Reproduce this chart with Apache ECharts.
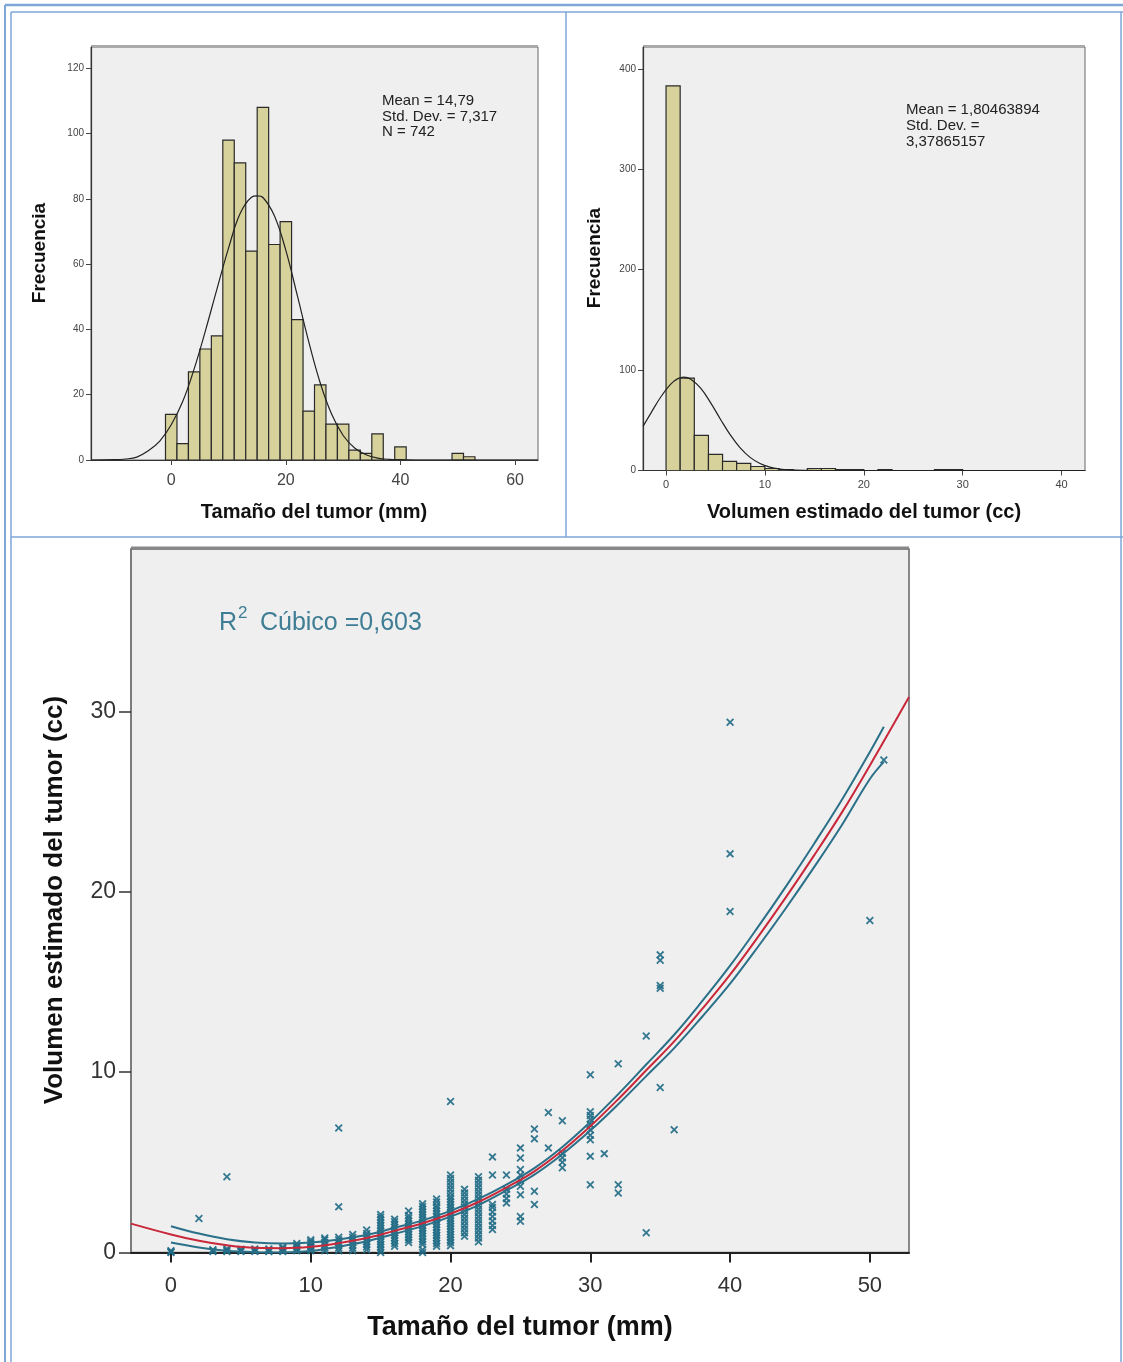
<!DOCTYPE html>
<html><head><meta charset="utf-8">
<script src="https://cdn.jsdelivr.net/npm/echarts@6/dist/echarts.min.js"></script>
<style>html,body{margin:0;padding:0;background:#fff}#c{width:1123px;height:1362px}</style>
</head><body><div id="c"></div>
<script>
// ---------- Histogram 1: Tamaño del tumor (mm) ----------
const tamBinCenters = [0,2,4,6,8,10,12,14,16,18,20,22,24,26,28,30,32,34,36,38,40,42,44,46,48,50,52];
const tamBinWidth = 2;
const tamCounts = [14,5,27,34,38,98,91,64,108,66,73,43,15,23,11,11,3,2,8,0,4,0,0,0,0,2,1];
const tamCurveX = [-14,-10,-8,-6,-4,-2,0,2,4,6,8,10,12,14,15,16,18,20,22,24,26,28,30,32,34,36,38,40,44,50,64];
const tamCurveY = [0,0.1,0.3,0.9,2.8,5.8,10.8,17.9,27.9,39.8,52.5,64.9,75.4,80.5,80.9,80.4,74.8,64.2,50.4,36.2,23.6,14.0,7.5,3.7,1.6,0.6,0.2,0.1,0,0,0];
const tamXTicks = [0,20,40,60];
const tamYTicks = [0,20,40,60,80,100,120];
const tamStats = ['Mean = 14,79','Std. Dev. = 7,317','N = 742'];

// ---------- Histogram 2: Volumen estimado del tumor (cc) ----------
const volBinStarts = [0,1.43,2.86,4.29,5.71,7.14,8.57,10,11.43,12.86,14.29,15.71,17.14,18.57,20,21.43,22.86,24.29,25.71,27.14,28.57];
const volBinWidth = 1.4286;
const volCounts = [383,92,35,16,9,7,4,2,1,0,2,2,1,1,0,1,0,0,0,1,1];
const volCurveX = [-2.33,-1.5,-0.5,0.5,1.2,1.8,2.5,3.5,4.5,5.5,6.5,7.5,8.5,9.5,10.5,11.5,12.5,14,16,20,42.4];
const volCurveY = [44,57.7,73.7,86.3,91.5,93,91,82,67.6,51.1,35.4,22.5,13.1,7.0,3.4,1.5,0.6,0.14,0,0,0];
const volXTicks = [0,10,20,30,40];
const volYTicks = [0,100,200,300,400];
const volStats = ['Mean = 1,80463894','Std. Dev. =','3,37865157'];

// ---------- Scatter: Tamaño vs Volumen ----------
const scatterPoints = [
 [0,0],[0,0.05],[0,0.1],[2,1.88],
 [3,0.05],[3,0.1],[3,0.15],
 [4,0.05],[4,0.12],[4,0.2],[4,4.2],
 [5,0.05],[5,0.1],[5,0.18],
 [6,0.05],[6,0.12],[6,0.2],
 [7,0.05],[7,0.1],[7,0.2],
 [8,0.05],[8,0.12],[8,0.22],[8,0.3],
 [9,0.1],[9,0.2],[9,0.3],[9,0.4],[9,0.5],
 [10,0.1],[10,0.2],[10,0.3],[10,0.4],[10,0.5],[10,0.6],[10,0.7],
 [11,0.1],[11,0.25],[11,0.4],[11,0.55],[11,0.7],[11,0.8],
 [12,0.1],[12,0.25],[12,0.4],[12,0.55],[12,0.7],[12,0.85],[12,2.53],[12,6.9],
 [13,0.1],[13,0.25],[13,0.4],[13,0.55],[13,0.7],[13,0.85],[13,1.0],
 [14,0.15],[14,0.3],[14,0.45],[14,0.6],[14,0.75],[14,0.9],[14,1.05],[14,1.25],
 [15,0],[15,0.15],[15,0.3],[15,0.45],[15,0.6],[15,0.75],[15,0.9],[15,1.05],[15,1.2],[15,1.35],[15,1.5],[15,1.65],[15,1.8],[15,1.95],[15,2.1],
 [16,0.35],[16,0.5],[16,0.65],[16,0.8],[16,0.95],[16,1.1],[16,1.25],[16,1.4],[16,1.55],[16,1.7],[16,1.85],
 [17,0.55],[17,0.7],[17,0.85],[17,1.0],[17,1.15],[17,1.3],[17,1.45],[17,1.6],[17,1.75],[17,1.9],[17,2.05],[17,2.3],
 [18,0],[18,0.15],[18,0.45],[18,0.6],[18,0.75],[18,0.9],[18,1.05],[18,1.2],[18,1.35],[18,1.5],[18,1.65],[18,1.8],[18,1.95],[18,2.1],[18,2.25],[18,2.4],[18,2.55],[18,2.7],
 [19,0.35],[19,0.5],[19,0.65],[19,0.8],[19,0.95],[19,1.1],[19,1.25],[19,1.4],[19,1.55],[19,1.7],[19,1.85],[19,2.0],[19,2.15],[19,2.3],[19,2.45],[19,2.6],[19,2.8],[19,2.97],
 [20,0.38],[20,0.55],[20,0.7],[20,0.85],[20,1.0],[20,1.15],[20,1.3],[20,1.45],[20,1.6],[20,1.75],[20,1.9],[20,2.05],[20,2.2],[20,2.35],[20,2.5],[20,2.65],[20,2.8],[20,2.95],[20,3.1],[20,3.3],[20,3.5],[20,3.7],[20,3.9],[20,4.1],[20,4.3],[20,8.37],
 [21,0.9],[21,1.1],[21,1.3],[21,1.5],[21,1.7],[21,1.9],[21,2.1],[21,2.3],[21,2.5],[21,2.7],[21,2.9],[21,3.1],[21,3.3],[21,3.5],
 [22,0.6],[22,0.8],[22,1.0],[22,1.2],[22,1.4],[22,1.6],[22,1.8],[22,2.0],[22,2.2],[22,2.4],[22,2.6],[22,2.8],[22,3.0],[22,3.2],[22,3.4],[22,3.6],[22,3.8],[22,4.0],[22,4.2],
 [23,1.27],[23,1.5],[23,1.75],[23,2.0],[23,2.25],[23,2.5],[23,2.66],[23,4.3],[23,5.3],
 [24,2.75],[24,3.0],[24,3.25],[24,3.5],[24,4.3],
 [25,1.73],[25,2.0],[25,3.2],[25,3.67],[25,4.0],[25,4.3],[25,4.6],[25,5.24],[25,5.8],
 [26,2.66],[26,3.4],[26,6.3],[26,6.85],
 [27,5.8],[27,7.76],
 [28,4.7],[28,5.0],[28,5.25],[28,5.5],[28,7.3],
 [30,3.76],[30,5.33],[30,6.25],[30,6.5],[30,6.8],[30,7.1],[30,7.4],[30,7.6],[30,7.8],[30,9.85],
 [31,5.48],[32,3.3],[32,3.76],[32,10.46],
 [34,1.1],[34,12.0],
 [35,9.15],[35,14.65],[35,14.8],[35,16.2],[35,16.5],
 [36,6.8],
 [40,18.9],[40,22.1],[40,29.4],
 [50,18.4],[51,27.3]
];
const fitX = [-2.86,0,2,4,6,8,10,12,14,16,18,20,22,24,26,28,30,32,34,36,38,40,42,44,46,48,50,52,52.8];
const fitY = [1.6,1.0,0.65,0.4,0.26,0.24,0.32,0.52,0.8,1.2,1.62,2.15,2.8,3.6,4.5,5.65,7.0,8.5,10.1,11.7,13.5,15.4,17.5,19.7,22.0,24.4,27.0,29.7,30.8];
const ciX = [0,2,4,6,8,10,12,14,16,18,20,22,24,26,28,30,32,34,36,38,40,42,44,46,48,50,51];
const ciUpper = [1.46,1.05,0.74,0.56,0.5,0.55,0.72,0.98,1.37,1.78,2.31,2.97,3.76,4.68,5.85,7.24,8.78,10.42,12.07,13.93,15.9,18.05,20.3,22.65,25.1,27.75,29.15];
const ciLower = [0.55,0.28,0.1,0.02,0,0.08,0.32,0.62,1.03,1.46,1.99,2.63,3.44,4.32,5.45,6.76,8.22,9.78,11.33,13.07,14.9,16.95,19.1,21.35,23.7,26.25,27.2];
const scXTicks = [0,10,20,30,40,50];
const scYTicks = [0,10,20,30];
const r2Label = ['R','2',' Cúbico =0,603'];

const F = '"Liberation Sans", Arial, sans-serif';
const zip = (a,b) => a.map((v,i)=>[v,b[i]]);

function histItem(params, api){
  const x0 = api.value(0), x1 = api.value(1), h = api.value(2);
  if (!h) return null;
  const p0 = api.coord([x0, 0]), p1 = api.coord([x1, h]);
  return {type:'rect', shape:{x:p0[0], y:p1[1], width:p1[0]-p0[0], height:p0[1]-p1[1]},
    style:{fill:'#d7d19b', stroke:'#2a2a2a', lineWidth:1.2}};
}

const tamBins = tamBinCenters.map((c,i)=>[c - tamBinWidth/2, c + tamBinWidth/2, tamCounts[i]]);
const volBins = volBinStarts.map((s,i)=>[s, s + volBinWidth, volCounts[i]]);

const xSym = 'path://M0,1.6L1.6,0L5,3.4L8.4,0L10,1.6L6.6,5L10,8.4L8.4,10L5,6.6L1.6,10L0,8.4L3.4,5Z';

function smallAxis(gridIndex, min, max, ticks, fs, margin, pos){
  return {
    gridIndex, type:'value', min, max, position: pos,
    splitLine:{show:false},
    axisLine:{show:true, onZero:false, lineStyle:{color:'#333', width:1.2}},
    axisTick:{show:true, length:5, customValues: ticks, lineStyle:{color:'#444'}},
    axisLabel:{show:true, customValues: ticks, fontFamily:F, fontSize:fs, color:'#444', margin}
  };
}

const blue = '#7ea6d8';
const graphics = [
  {type:'line', shape:{x1:5,y1:5,x2:1123,y2:5}, style:{stroke:blue, lineWidth:2.5}},
  {type:'line', shape:{x1:5,y1:5,x2:5,y2:1362}, style:{stroke:blue, lineWidth:2}},
  {type:'line', shape:{x1:11,y1:12,x2:1123,y2:12}, style:{stroke:blue, lineWidth:1.5}},
  {type:'line', shape:{x1:11,y1:12,x2:11,y2:1362}, style:{stroke:blue, lineWidth:1.5}},
  {type:'line', shape:{x1:566,y1:12,x2:566,y2:537}, style:{stroke:blue, lineWidth:1.5}},
  {type:'line', shape:{x1:11,y1:537,x2:1123,y2:537}, style:{stroke:blue, lineWidth:1.5}},
  {type:'line', shape:{x1:1121,y1:12,x2:1121,y2:1362}, style:{stroke:blue, lineWidth:1.5}},
  // plot-frame top shading like the reference
  {type:'line', shape:{x1:91,y1:46,x2:538,y2:46}, style:{stroke:'#aaa', lineWidth:2}},
  {type:'line', shape:{x1:643,y1:46,x2:1085,y2:46}, style:{stroke:'#aaa', lineWidth:2}},
  {type:'line', shape:{x1:131,y1:548,x2:909,y2:548}, style:{stroke:'#888', lineWidth:3}},
  // axis titles
  {type:'text', x:314, y:512, style:{text:'Tamaño del tumor (mm)', font:'bold 20px '+F, fill:'#111', align:'center', verticalAlign:'middle'}},
  {type:'text', x:40, y:253, rotation:Math.PI/2, style:{text:'Frecuencia', font:'bold 19px '+F, fill:'#111', align:'center', verticalAlign:'middle'}},
  {type:'text', x:864, y:512, style:{text:'Volumen estimado del tumor (cc)', font:'bold 20px '+F, fill:'#111', align:'center', verticalAlign:'middle'}},
  {type:'text', x:595, y:258, rotation:Math.PI/2, style:{text:'Frecuencia', font:'bold 19px '+F, fill:'#111', align:'center', verticalAlign:'middle'}},
  {type:'text', x:520, y:1328, style:{text:'Tamaño del tumor (mm)', font:'bold 27px '+F, fill:'#111', align:'center', verticalAlign:'middle'}},
  {type:'text', x:55, y:900, rotation:Math.PI/2, style:{text:'Volumen estimado del tumor (cc)', font:'bold 26px '+F, fill:'#111', align:'center', verticalAlign:'middle'}},
  // R2
  {type:'text', x:219, y:623, style:{text:r2Label[0], font:'25px '+F, fill:'#3f7d94', verticalAlign:'middle'}},
  {type:'text', x:238, y:613, style:{text:r2Label[1], font:'17px '+F, fill:'#3f7d94', verticalAlign:'middle'}},
  {type:'text', x:253, y:623, style:{text:r2Label[2], font:'25px '+F, fill:'#3f7d94', verticalAlign:'middle'}}
];
tamStats.forEach((t,i)=>graphics.push({type:'text', x:382, y:101+i*15.5, style:{text:t, font:'15px '+F, fill:'#222', verticalAlign:'middle'}}));
volStats.forEach((t,i)=>graphics.push({type:'text', x:906, y:110+i*16, style:{text:t, font:'15px '+F, fill:'#222', verticalAlign:'middle'}}));

const option = {
  animation:false,
  backgroundColor:'#fff',
  grid:[
    {left:91, top:47, width:447, height:413, show:true, backgroundColor:'#efefef', borderColor:'#666', borderWidth:1, outerBoundsMode:'none'},
    {left:643, top:47, width:442, height:423.5, show:true, backgroundColor:'#efefef', borderColor:'#666', borderWidth:1, outerBoundsMode:'none'},
    {left:131, top:549, width:778, height:703.5, show:true, backgroundColor:'#efefef', borderColor:'#666', borderWidth:1.5, outerBoundsMode:'none'}
  ],
  xAxis:[
    smallAxis(0,-14,64,tamXTicks,16,13,'bottom'),
    smallAxis(1,-2.33,42.37,volXTicks,11,9,'bottom'),
    {gridIndex:2, type:'value', min:-2.86, max:52.8, position:'bottom',
      splitLine:{show:false},
      axisLine:{show:true, onZero:false, lineStyle:{color:'#222', width:2}},
      axisTick:{show:true, length:10, customValues: scXTicks, lineStyle:{color:'#222', width:2}},
      axisLabel:{customValues: scXTicks, fontFamily:F, fontSize:22, color:'#333', margin:22}}
  ],
  yAxis:[
    smallAxis(0,0,126.5,tamYTicks,10,7,'left'),
    smallAxis(1,0,421.8,volYTicks,10,7,'left'),
    {gridIndex:2, type:'value', min:0, max:39, position:'left',
      splitLine:{show:false},
      axisLine:{show:true, onZero:false, lineStyle:{color:'#777', width:1.5}},
      axisTick:{show:true, length:12, customValues: scYTicks, lineStyle:{color:'#333', width:1.5}},
      axisLabel:{customValues: scYTicks, fontFamily:F, fontSize:23, color:'#333', margin:15}}
  ],
  series:[
    {type:'custom', xAxisIndex:0, yAxisIndex:0, renderItem:histItem, encode:{x:[0,1], y:2}, data:tamBins, clip:true},
    {type:'line', xAxisIndex:0, yAxisIndex:0, data:zip(tamCurveX,tamCurveY), smooth:0.4, showSymbol:false, lineStyle:{color:'#222', width:1.2}, z:5},
    {type:'custom', xAxisIndex:1, yAxisIndex:1, renderItem:histItem, encode:{x:[0,1], y:2}, data:volBins, clip:true},
    {type:'line', xAxisIndex:1, yAxisIndex:1, data:zip(volCurveX,volCurveY), smooth:0.4, showSymbol:false, lineStyle:{color:'#222', width:1.2}, z:5},
    {type:'scatter', xAxisIndex:2, yAxisIndex:2, data:scatterPoints, symbol:xSym, symbolSize:8, itemStyle:{color:'#1f6a85', opacity:0.9}},
    {type:'line', xAxisIndex:2, yAxisIndex:2, data:zip(ciX,ciUpper), smooth:0.4, showSymbol:false, lineStyle:{color:'#2a7088', width:2}, z:4},
    {type:'line', xAxisIndex:2, yAxisIndex:2, data:zip(ciX,ciLower), smooth:0.4, showSymbol:false, lineStyle:{color:'#2a7088', width:2}, z:4},
    {type:'line', xAxisIndex:2, yAxisIndex:2, data:zip(fitX,fitY), smooth:0.4, showSymbol:false, lineStyle:{color:'#c8283a', width:2}, z:5}
  ],
  graphic: graphics
};
const chart = echarts.init(document.getElementById('c'), null, {renderer:'canvas'});
chart.setOption(option);
</script></body></html>
